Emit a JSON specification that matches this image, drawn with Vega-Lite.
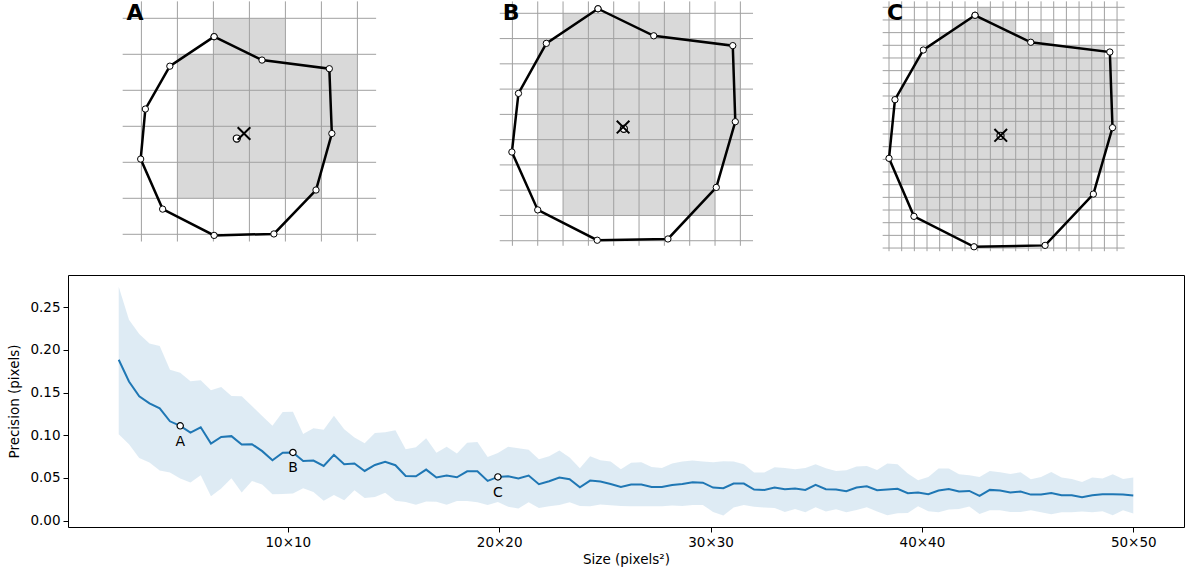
{
"$schema":"https://vega.github.io/schema/vega-lite/v6.json",
"background":"white",
"padding":{"left":7,"top":0,"right":0,"bottom":0},
"config":{"font":"DejaVu Sans","view":{"stroke":null},"axis":{"labelFont":"DejaVu Sans","titleFont":"DejaVu Sans","labelColor":"black","titleColor":"black","tickColor":"black","titleFontWeight":"normal","grid":false,"domain":false}},
"datasets":{
"cellsA":[{"x0":2,"x1":4,"y0":0,"y1":1},{"x0":1,"x1":6,"y0":1,"y1":4},{"x0":1,"x1":5,"y0":4,"y1":5}],
"cellsB":[{"x0":2,"x1":7,"y0":0,"y1":1},{"x0":1,"x1":9,"y0":1,"y1":6},{"x0":1,"x1":8,"y0":6,"y1":7},{"x0":2,"x1":8,"y0":7,"y1":8}],
"cellsC":[{"x0":7,"x1":8,"y0":0,"y1":1},{"x0":5,"x1":10,"y0":1,"y1":2},{"x0":4,"x1":13,"y0":2,"y1":3},{"x0":3,"x1":17,"y0":3,"y1":4},{"x0":2,"x1":18,"y0":4,"y1":6},{"x0":1,"x1":18,"y0":6,"y1":11},{"x0":1,"x1":17,"y0":11,"y1":13},{"x0":1,"x1":16,"y0":13,"y1":14},{"x0":2,"x1":16,"y0":14,"y1":15},{"x0":2,"x1":15,"y0":15,"y1":16},{"x0":3,"x1":14,"y0":16,"y1":17},{"x0":5,"x1":13,"y0":17,"y1":18}],
"gA":[{"g":0},{"g":1},{"g":2},{"g":3},{"g":4},{"g":5},{"g":6}],
"gB":[{"g":0},{"g":1},{"g":2},{"g":3},{"g":4},{"g":5},{"g":6},{"g":7},{"g":8},{"g":9}],
"gCv":[{"g":0},{"g":1},{"g":2},{"g":3},{"g":4},{"g":5},{"g":6},{"g":7},{"g":8},{"g":9},{"g":10},{"g":11},{"g":12},{"g":13},{"g":14},{"g":15},{"g":16},{"g":17},{"g":18}],
"gCh":[{"g":0},{"g":1},{"g":2},{"g":3},{"g":4},{"g":5},{"g":6},{"g":7},{"g":8},{"g":9},{"g":10},{"g":11},{"g":12},{"g":13},{"g":14},{"g":15},{"g":16},{"g":17},{"g":18},{"g":19}],
"polyA":[{"o":0,"u":2.02,"v":0.51},{"o":1,"u":3.35,"v":1.16},{"o":2,"u":5.22,"v":1.40},{"o":3,"u":5.29,"v":3.20},{"o":4,"u":4.85,"v":4.77},{"o":5,"u":3.68,"v":5.99},{"o":6,"u":2.02,"v":6.03},{"o":7,"u":0.59,"v":5.30},{"o":8,"u":-0.02,"v":3.91},{"o":9,"u":0.11,"v":2.52},{"o":10,"u":0.79,"v":1.33},{"o":11,"u":2.02,"v":0.51}],
"polyB":[{"o":0,"u":3.38,"v":-0.18},{"o":1,"u":5.58,"v":0.89},{"o":2,"u":8.70,"v":1.28},{"o":3,"u":8.80,"v":4.29},{"o":4,"u":8.05,"v":6.89},{"o":5,"u":6.14,"v":8.93},{"o":6,"u":3.35,"v":8.98},{"o":7,"u":1.00,"v":7.78},{"o":8,"u":-0.02,"v":5.49},{"o":9,"u":0.24,"v":3.17},{"o":10,"u":1.34,"v":1.19},{"o":11,"u":3.38,"v":-0.18}],
"polyC":[{"o":0,"u":6.79,"v":0.63},{"o":1,"u":11.19,"v":2.76},{"o":2,"u":17.43,"v":3.53},{"o":3,"u":17.64,"v":9.50},{"o":4,"u":16.13,"v":14.74},{"o":5,"u":12.32,"v":18.79},{"o":6,"u":6.71,"v":18.90},{"o":7,"u":1.97,"v":16.50},{"o":8,"u":0.00,"v":11.92},{"o":9,"u":0.47,"v":7.29},{"o":10,"u":2.71,"v":3.37},{"o":11,"u":6.79,"v":0.63}],
"cenA":[{"cu":2.65,"cv":3.34,"xu":2.85,"xv":3.20,"lu":-0.417,"lv":0.047,"t":"A"}],
"cenB":[{"cu":4.40,"cv":4.57,"xu":4.37,"xv":4.50,"lu":-0.383,"lv":0.265,"t":"B"}],
"cenC":[{"cu":8.80,"cv":10.14,"xu":8.82,"xv":10.10,"lu":-0.158,"lv":1.002,"t":"C"}],
"abc":[{"x":4.909,"m":0.1110,"label":"A"},{"x":10.242,"m":0.0798,"label":"B"},{"x":19.939,"m":0.0511,"label":"C"}],
"prec":[
{"x":2.000,"m":0.1885,"hi":0.2740,"lo":0.1011},{"x":2.485,"m":0.1630,"hi":0.2354,"lo":0.0893},{"x":2.970,"m":0.1456,"hi":0.2186,"lo":0.0733},{"x":3.455,"m":0.1373,"hi":0.2076,"lo":0.0679},{"x":3.939,"m":0.1315,"hi":0.2045,"lo":0.0585},{"x":4.424,"m":0.1163,"hi":0.1768,"lo":0.0562},{"x":4.909,"m":0.1110,"hi":0.1733,"lo":0.0492},{"x":5.394,"m":0.1030,"hi":0.1633,"lo":0.0445},{"x":5.879,"m":0.1093,"hi":0.1643,"lo":0.0530},{"x":6.364,"m":0.0901,"hi":0.1526,"lo":0.0285},
{"x":6.848,"m":0.0979,"hi":0.1565,"lo":0.0375},{"x":7.333,"m":0.0989,"hi":0.1459,"lo":0.0495},{"x":7.818,"m":0.0891,"hi":0.1456,"lo":0.0328},{"x":8.303,"m":0.0895,"hi":0.1342,"lo":0.0464},{"x":8.788,"m":0.0813,"hi":0.1225,"lo":0.0422},{"x":9.273,"m":0.0706,"hi":0.1112,"lo":0.0308},{"x":9.758,"m":0.0794,"hi":0.1272,"lo":0.0311},{"x":10.242,"m":0.0798,"hi":0.1276,"lo":0.0316},{"x":10.727,"m":0.0698,"hi":0.1014,"lo":0.0378},{"x":11.212,"m":0.0703,"hi":0.1081,"lo":0.0335},
{"x":11.697,"m":0.0639,"hi":0.1063,"lo":0.0232},{"x":12.182,"m":0.0770,"hi":0.1227,"lo":0.0300},{"x":12.667,"m":0.0659,"hi":0.1071,"lo":0.0238},{"x":13.152,"m":0.0669,"hi":0.0973,"lo":0.0355},{"x":13.636,"m":0.0581,"hi":0.0905,"lo":0.0265},{"x":14.121,"m":0.0651,"hi":0.1026,"lo":0.0275},{"x":14.606,"m":0.0688,"hi":0.1034,"lo":0.0325},{"x":15.091,"m":0.0648,"hi":0.1057,"lo":0.0232},{"x":15.576,"m":0.0522,"hi":0.0836,"lo":0.0216},{"x":16.061,"m":0.0519,"hi":0.0860,"lo":0.0185},
{"x":16.545,"m":0.0597,"hi":0.0963,"lo":0.0222},{"x":17.030,"m":0.0505,"hi":0.0794,"lo":0.0220},{"x":17.515,"m":0.0527,"hi":0.0864,"lo":0.0185},{"x":18.000,"m":0.0507,"hi":0.0786,"lo":0.0230},{"x":18.485,"m":0.0577,"hi":0.0913,"lo":0.0230},{"x":18.970,"m":0.0577,"hi":0.0920,"lo":0.0215},{"x":19.455,"m":0.0464,"hi":0.0745,"lo":0.0183},{"x":19.939,"m":0.0511,"hi":0.0792,"lo":0.0218},{"x":20.424,"m":0.0519,"hi":0.0866,"lo":0.0160},{"x":20.909,"m":0.0492,"hi":0.0847,"lo":0.0141},
{"x":21.394,"m":0.0527,"hi":0.0831,"lo":0.0215},{"x":21.879,"m":0.0425,"hi":0.0718,"lo":0.0148},{"x":22.364,"m":0.0460,"hi":0.0753,"lo":0.0168},{"x":22.848,"m":0.0503,"hi":0.0820,"lo":0.0183},{"x":23.333,"m":0.0484,"hi":0.0738,"lo":0.0215},{"x":23.818,"m":0.0390,"hi":0.0612,"lo":0.0171},{"x":24.303,"m":0.0468,"hi":0.0753,"lo":0.0168},{"x":24.788,"m":0.0457,"hi":0.0706,"lo":0.0187},{"x":25.273,"m":0.0429,"hi":0.0691,"lo":0.0179},{"x":25.758,"m":0.0394,"hi":0.0601,"lo":0.0171},
{"x":26.242,"m":0.0423,"hi":0.0677,"lo":0.0166},{"x":26.727,"m":0.0421,"hi":0.0683,"lo":0.0167},{"x":27.212,"m":0.0394,"hi":0.0628,"lo":0.0167},{"x":27.697,"m":0.0394,"hi":0.0616,"lo":0.0167},{"x":28.182,"m":0.0417,"hi":0.0667,"lo":0.0175},{"x":28.667,"m":0.0429,"hi":0.0691,"lo":0.0171},{"x":29.152,"m":0.0448,"hi":0.0703,"lo":0.0183},{"x":29.636,"m":0.0444,"hi":0.0691,"lo":0.0183},{"x":30.121,"m":0.0386,"hi":0.0683,"lo":0.0101},{"x":30.606,"m":0.0378,"hi":0.0694,"lo":0.0058},
{"x":31.091,"m":0.0433,"hi":0.0691,"lo":0.0152},{"x":31.576,"m":0.0433,"hi":0.0659,"lo":0.0183},{"x":32.061,"m":0.0363,"hi":0.0562,"lo":0.0160},{"x":32.545,"m":0.0359,"hi":0.0562,"lo":0.0152},{"x":33.030,"m":0.0386,"hi":0.0624,"lo":0.0148},{"x":33.515,"m":0.0367,"hi":0.0616,"lo":0.0101},{"x":34.000,"m":0.0375,"hi":0.0601,"lo":0.0136},{"x":34.485,"m":0.0359,"hi":0.0616,"lo":0.0097},{"x":34.970,"m":0.0417,"hi":0.0659,"lo":0.0156},{"x":35.455,"m":0.0367,"hi":0.0612,"lo":0.0105},
{"x":35.939,"m":0.0363,"hi":0.0581,"lo":0.0132},{"x":36.424,"m":0.0343,"hi":0.0589,"lo":0.0097},{"x":36.909,"m":0.0386,"hi":0.0632,"lo":0.0124},{"x":37.394,"m":0.0402,"hi":0.0639,"lo":0.0156},{"x":37.879,"m":0.0355,"hi":0.0593,"lo":0.0105},{"x":38.364,"m":0.0363,"hi":0.0667,"lo":0.0062},{"x":38.848,"m":0.0371,"hi":0.0661,"lo":0.0085},{"x":39.333,"m":0.0320,"hi":0.0550,"lo":0.0089},{"x":39.818,"m":0.0328,"hi":0.0472,"lo":0.0167},{"x":40.303,"m":0.0308,"hi":0.0511,"lo":0.0109},
{"x":40.788,"m":0.0351,"hi":0.0609,"lo":0.0097},{"x":41.273,"m":0.0370,"hi":0.0609,"lo":0.0129},{"x":41.758,"m":0.0340,"hi":0.0542,"lo":0.0136},{"x":42.242,"m":0.0347,"hi":0.0530,"lo":0.0164},{"x":42.727,"m":0.0288,"hi":0.0511,"lo":0.0077},{"x":43.212,"m":0.0359,"hi":0.0581,"lo":0.0121},{"x":43.697,"m":0.0351,"hi":0.0566,"lo":0.0121},{"x":44.182,"m":0.0328,"hi":0.0546,"lo":0.0101},{"x":44.667,"m":0.0340,"hi":0.0566,"lo":0.0101},{"x":45.152,"m":0.0304,"hi":0.0484,"lo":0.0121},
{"x":45.636,"m":0.0304,"hi":0.0511,"lo":0.0097},{"x":46.121,"m":0.0323,"hi":0.0569,"lo":0.0074},{"x":46.606,"m":0.0296,"hi":0.0503,"lo":0.0097},{"x":47.091,"m":0.0296,"hi":0.0487,"lo":0.0097},{"x":47.576,"m":0.0273,"hi":0.0452,"lo":0.0105},{"x":48.061,"m":0.0296,"hi":0.0503,"lo":0.0097},{"x":48.545,"m":0.0308,"hi":0.0492,"lo":0.0109},{"x":49.030,"m":0.0308,"hi":0.0542,"lo":0.0062},{"x":49.515,"m":0.0304,"hi":0.0487,"lo":0.0121},{"x":50.000,"m":0.0293,"hi":0.0503,"lo":0.0082}
]
},
"vconcat":[
{
"width":1120,"height":262,
"view":{"stroke":null},
"resolve":{"scale":{"x":"independent","y":"independent"}},
"layer":[
{"layer":[
{"data":{"name":"cellsA"},"mark":{"type":"rect","color":"#d9d9d9"},"encoding":{"x":{"field":"x0","type":"quantitative","scale":{"domain":[-2.0389,29.0722],"zero":false,"nice":false},"axis":null},"x2":{"field":"x1"},"y":{"field":"y0","type":"quantitative","scale":{"domain":[-0.4806,6.7972],"reverse":true,"zero":false,"nice":false},"axis":null},"y2":{"field":"y1"}}},
{"data":{"name":"gA"},"mark":{"type":"rule","color":"#a0a0a0","strokeWidth":1},"encoding":{"x":{"field":"g","type":"quantitative","scale":{"domain":[-2.0389,29.0722],"zero":false,"nice":false},"axis":null},"y":{"datum":-0.47,"type":"quantitative","scale":{"domain":[-0.4806,6.7972],"reverse":true,"zero":false,"nice":false},"axis":null},"y2":{"datum":6.2}}},
{"data":{"name":"gA"},"mark":{"type":"rule","color":"#a0a0a0","strokeWidth":1},"encoding":{"y":{"field":"g","type":"quantitative","scale":{"domain":[-0.4806,6.7972],"reverse":true,"zero":false,"nice":false},"axis":null},"x":{"datum":-0.52,"type":"quantitative","scale":{"domain":[-2.0389,29.0722],"zero":false,"nice":false},"axis":null},"x2":{"datum":6.52}}},
{"data":{"name":"polyA"},"mark":{"type":"line","color":"black","strokeWidth":2.5},"encoding":{"x":{"field":"u","type":"quantitative","scale":{"domain":[-2.0389,29.0722],"zero":false,"nice":false},"axis":null},"y":{"field":"v","type":"quantitative","scale":{"domain":[-0.4806,6.7972],"reverse":true,"zero":false,"nice":false},"axis":null},"order":{"field":"o"}}},
{"data":{"name":"polyA"},"mark":{"type":"point","filled":true,"fill":"white","stroke":"black","strokeWidth":1,"size":40,"opacity":1},"encoding":{"x":{"field":"u","type":"quantitative","scale":{"domain":[-2.0389,29.0722],"zero":false,"nice":false},"axis":null},"y":{"field":"v","type":"quantitative","scale":{"domain":[-0.4806,6.7972],"reverse":true,"zero":false,"nice":false},"axis":null}}},
{"data":{"name":"cenA"},"mark":{"type":"point","filled":true,"fill":"white","stroke":"black","strokeWidth":1.2,"size":50,"opacity":1},"encoding":{"x":{"field":"cu","type":"quantitative","scale":{"domain":[-2.0389,29.0722],"zero":false,"nice":false},"axis":null},"y":{"field":"cv","type":"quantitative","scale":{"domain":[-0.4806,6.7972],"reverse":true,"zero":false,"nice":false},"axis":null}}},
{"data":{"name":"cenA"},"mark":{"type":"point","shape":"M-1,-1L1,1M-1,1L1,-1","filled":false,"stroke":"black","strokeWidth":2,"size":160,"opacity":1},"encoding":{"x":{"field":"xu","type":"quantitative","scale":{"domain":[-2.0389,29.0722],"zero":false,"nice":false},"axis":null},"y":{"field":"xv","type":"quantitative","scale":{"domain":[-0.4806,6.7972],"reverse":true,"zero":false,"nice":false},"axis":null}}},
{"data":{"name":"cenA"},"mark":{"type":"text","fontSize":22,"fontWeight":"bold","align":"left","baseline":"alphabetic","color":"black"},"encoding":{"x":{"field":"lu","type":"quantitative","scale":{"domain":[-2.0389,29.0722],"zero":false,"nice":false},"axis":null},"y":{"field":"lv","type":"quantitative","scale":{"domain":[-0.4806,6.7972],"reverse":true,"zero":false,"nice":false},"axis":null},"text":{"field":"t"}}}
]},
{"layer":[
{"data":{"name":"cellsB"},"mark":{"type":"rect","color":"#d9d9d9"},"encoding":{"x":{"field":"x0","type":"quantitative","scale":{"domain":[-17.544,26.672],"zero":false,"nice":false},"axis":null},"x2":{"field":"x1"},"y":{"field":"y0","type":"quantitative","scale":{"domain":[-0.4867,9.8813],"reverse":true,"zero":false,"nice":false},"axis":null},"y2":{"field":"y1"}}},
{"data":{"name":"gB"},"mark":{"type":"rule","color":"#a0a0a0","strokeWidth":1},"encoding":{"x":{"field":"g","type":"quantitative","scale":{"domain":[-17.544,26.672],"zero":false,"nice":false},"axis":null},"y":{"datum":-0.47,"type":"quantitative","scale":{"domain":[-0.4867,9.8813],"reverse":true,"zero":false,"nice":false},"axis":null},"y2":{"datum":9.2}}},
{"data":{"name":"gB"},"mark":{"type":"rule","color":"#a0a0a0","strokeWidth":1},"encoding":{"y":{"field":"g","type":"quantitative","scale":{"domain":[-0.4867,9.8813],"reverse":true,"zero":false,"nice":false},"axis":null},"x":{"datum":-0.5,"type":"quantitative","scale":{"domain":[-17.544,26.672],"zero":false,"nice":false},"axis":null},"x2":{"datum":9.5}}},
{"data":{"name":"polyB"},"mark":{"type":"line","color":"black","strokeWidth":2.5},"encoding":{"x":{"field":"u","type":"quantitative","scale":{"domain":[-17.544,26.672],"zero":false,"nice":false},"axis":null},"y":{"field":"v","type":"quantitative","scale":{"domain":[-0.4867,9.8813],"reverse":true,"zero":false,"nice":false},"axis":null},"order":{"field":"o"}}},
{"data":{"name":"polyB"},"mark":{"type":"point","filled":true,"fill":"white","stroke":"black","strokeWidth":1,"size":40,"opacity":1},"encoding":{"x":{"field":"u","type":"quantitative","scale":{"domain":[-17.544,26.672],"zero":false,"nice":false},"axis":null},"y":{"field":"v","type":"quantitative","scale":{"domain":[-0.4867,9.8813],"reverse":true,"zero":false,"nice":false},"axis":null}}},
{"data":{"name":"cenB"},"mark":{"type":"point","filled":true,"fill":"white","stroke":"black","strokeWidth":1.2,"size":50,"opacity":1},"encoding":{"x":{"field":"cu","type":"quantitative","scale":{"domain":[-17.544,26.672],"zero":false,"nice":false},"axis":null},"y":{"field":"cv","type":"quantitative","scale":{"domain":[-0.4867,9.8813],"reverse":true,"zero":false,"nice":false},"axis":null}}},
{"data":{"name":"cenB"},"mark":{"type":"point","shape":"M-1,-1L1,1M-1,1L1,-1","filled":false,"stroke":"black","strokeWidth":2,"size":160,"opacity":1},"encoding":{"x":{"field":"xu","type":"quantitative","scale":{"domain":[-17.544,26.672],"zero":false,"nice":false},"axis":null},"y":{"field":"xv","type":"quantitative","scale":{"domain":[-0.4867,9.8813],"reverse":true,"zero":false,"nice":false},"axis":null}}},
{"data":{"name":"cenB"},"mark":{"type":"text","fontSize":22,"fontWeight":"bold","align":"left","baseline":"alphabetic","color":"black"},"encoding":{"x":{"field":"lu","type":"quantitative","scale":{"domain":[-17.544,26.672],"zero":false,"nice":false},"axis":null},"y":{"field":"lv","type":"quantitative","scale":{"domain":[-0.4867,9.8813],"reverse":true,"zero":false,"nice":false},"axis":null},"text":{"field":"t"}}}
]},
{"layer":[
{"data":{"name":"cellsC"},"mark":{"type":"rect","color":"#d9d9d9"},"encoding":{"x":{"field":"x0","type":"quantitative","scale":{"domain":[-64.80,23.599],"zero":false,"nice":false},"axis":null},"x2":{"field":"x1"},"y":{"field":"y0","type":"quantitative","scale":{"domain":[-0.4972,20.181],"reverse":true,"zero":false,"nice":false},"axis":null},"y2":{"field":"y1"}}},
{"data":{"name":"gCv"},"mark":{"type":"rule","color":"#a0a0a0","strokeWidth":1},"encoding":{"x":{"field":"g","type":"quantitative","scale":{"domain":[-64.80,23.599],"zero":false,"nice":false},"axis":null},"y":{"datum":-0.47,"type":"quantitative","scale":{"domain":[-0.4972,20.181],"reverse":true,"zero":false,"nice":false},"axis":null},"y2":{"datum":19.25}}},
{"data":{"name":"gCh"},"mark":{"type":"rule","color":"#a0a0a0","strokeWidth":1},"encoding":{"y":{"field":"g","type":"quantitative","scale":{"domain":[-0.4972,20.181],"reverse":true,"zero":false,"nice":false},"axis":null},"x":{"datum":-0.5,"type":"quantitative","scale":{"domain":[-64.80,23.599],"zero":false,"nice":false},"axis":null},"x2":{"datum":18.6}}},
{"data":{"name":"polyC"},"mark":{"type":"line","color":"black","strokeWidth":2.5},"encoding":{"x":{"field":"u","type":"quantitative","scale":{"domain":[-64.80,23.599],"zero":false,"nice":false},"axis":null},"y":{"field":"v","type":"quantitative","scale":{"domain":[-0.4972,20.181],"reverse":true,"zero":false,"nice":false},"axis":null},"order":{"field":"o"}}},
{"data":{"name":"polyC"},"mark":{"type":"point","filled":true,"fill":"white","stroke":"black","strokeWidth":1,"size":40,"opacity":1},"encoding":{"x":{"field":"u","type":"quantitative","scale":{"domain":[-64.80,23.599],"zero":false,"nice":false},"axis":null},"y":{"field":"v","type":"quantitative","scale":{"domain":[-0.4972,20.181],"reverse":true,"zero":false,"nice":false},"axis":null}}},
{"data":{"name":"cenC"},"mark":{"type":"point","filled":true,"fill":"white","stroke":"black","strokeWidth":1.2,"size":50,"opacity":1},"encoding":{"x":{"field":"cu","type":"quantitative","scale":{"domain":[-64.80,23.599],"zero":false,"nice":false},"axis":null},"y":{"field":"cv","type":"quantitative","scale":{"domain":[-0.4972,20.181],"reverse":true,"zero":false,"nice":false},"axis":null}}},
{"data":{"name":"cenC"},"mark":{"type":"point","shape":"M-1,-1L1,1M-1,1L1,-1","filled":false,"stroke":"black","strokeWidth":2,"size":160,"opacity":1},"encoding":{"x":{"field":"xu","type":"quantitative","scale":{"domain":[-64.80,23.599],"zero":false,"nice":false},"axis":null},"y":{"field":"xv","type":"quantitative","scale":{"domain":[-0.4972,20.181],"reverse":true,"zero":false,"nice":false},"axis":null}}},
{"data":{"name":"cenC"},"mark":{"type":"text","fontSize":22,"fontWeight":"bold","align":"left","baseline":"alphabetic","color":"black"},"encoding":{"x":{"field":"lu","type":"quantitative","scale":{"domain":[-64.80,23.599],"zero":false,"nice":false},"axis":null},"y":{"field":"lv","type":"quantitative","scale":{"domain":[-0.4972,20.181],"reverse":true,"zero":false,"nice":false},"axis":null},"text":{"field":"t"}}}
]}
]
},
{
"width":1116,"height":252,
"view":{"stroke":"black","strokeWidth":1},
"layer":[
{"data":{"name":"prec"},"mark":{"type":"area","color":"#1f77b4","opacity":0.15},"encoding":{"x":{"field":"x","type":"quantitative","scale":{"domain":[-0.4,52.4],"zero":false,"nice":false},"axis":{"values":[10,20,30,40,50],"labelExpr":"datum.value + '×' + datum.value","title":"Size (pixels²)","tickSize":5,"labelPadding":3,"titlePadding":4,"labelFontSize":13.5,"titleFontSize":13.5}},"y":{"field":"lo","type":"quantitative","scale":{"domain":[-0.0076,0.2878],"zero":false,"nice":false},"axis":{"values":[0,0.05,0.1,0.15,0.2,0.25],"format":".2f","title":"Precision (pixels)","tickSize":5,"labelPadding":3,"titlePadding":8,"labelFontSize":13.5,"titleFontSize":13.5}},"y2":{"field":"hi"}}},
{"data":{"name":"prec"},"mark":{"type":"line","color":"#1f77b4","strokeWidth":2},"encoding":{"x":{"field":"x","type":"quantitative"},"y":{"field":"m","type":"quantitative"}}},
{"data":{"name":"abc"},"mark":{"type":"point","filled":true,"fill":"white","stroke":"black","strokeWidth":1.2,"size":40,"opacity":1},"encoding":{"x":{"field":"x","type":"quantitative"},"y":{"field":"m","type":"quantitative"}}},
{"data":{"name":"abc"},"mark":{"type":"text","fontSize":14,"dy":16,"baseline":"middle","color":"black"},"encoding":{"x":{"field":"x","type":"quantitative"},"y":{"field":"m","type":"quantitative"},"text":{"field":"label"}}}
]
}
],
"spacing":11
}
